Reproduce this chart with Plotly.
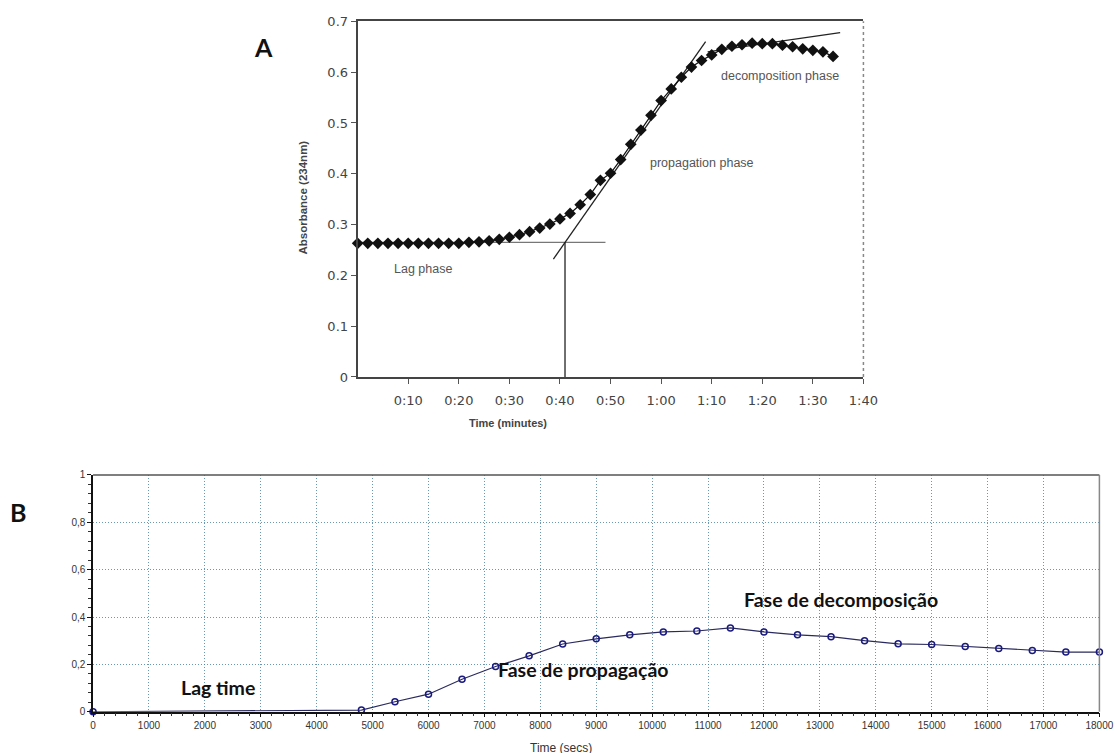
import plotly.graph_objects as go

# ---------------- Panel A data ----------------
a_time_min = [0, 2, 4, 6, 8, 10, 12, 14, 16, 18, 20, 22, 24, 26, 28, 30, 32, 34, 36, 38,
              40, 42, 44, 46, 48, 50, 52, 54, 56, 58, 60, 62, 64, 66, 68, 70, 72, 74, 76, 78,
              80, 82, 84, 86, 88, 90, 92, 94]
a_absorbance = [0.263, 0.263, 0.263, 0.263, 0.263, 0.263, 0.263, 0.263, 0.263, 0.263, 0.263,
                0.265, 0.266, 0.268, 0.271, 0.275, 0.280, 0.286, 0.293, 0.301, 0.311, 0.322,
                0.339, 0.359, 0.387, 0.401, 0.428, 0.458, 0.486, 0.515, 0.544, 0.567, 0.590,
                0.610, 0.623, 0.634, 0.645, 0.651, 0.654, 0.657, 0.656, 0.656, 0.653, 0.650,
                0.646, 0.643, 0.640, 0.631]
a_xtick_vals = [10, 20, 30, 40, 50, 60, 70, 80, 90, 100]
a_xtick_text = ["0:10", "0:20", "0:30", "0:40", "0:50", "1:00", "1:10", "1:20", "1:30", "1:40"]
a_ytick_vals = [0, 0.1, 0.2, 0.3, 0.4, 0.5, 0.6, 0.7]
a_ytick_text = ["0", "0.1", "0.2", "0.3", "0.4", "0.5", "0.6", "0.7"]

# tangent / construction lines (x in minutes, y in absorbance)
lag_line_x = [0, 49]
lag_line_y = [0.265, 0.265]
prop_line_x = [38.7, 68.8]
prop_line_y = [0.232, 0.660]
lagtime_x = [41, 41]
lagtime_y = [0, 0.265]
decomp_line_x = [69.2, 95.4]
decomp_line_y = [0.640, 0.678]

# ---------------- Panel B data ----------------
b_time_s = [0, 4800, 5400, 6000, 6600, 7200, 7800, 8400, 9000, 9600, 10200, 10800, 11400,
            12000, 12600, 13200, 13800, 14400, 15000, 15600, 16200, 16800, 17400, 18000]
b_value = [0.0, 0.007, 0.042, 0.074, 0.137, 0.191, 0.236, 0.286, 0.308, 0.325, 0.337, 0.341,
           0.354, 0.337, 0.325, 0.317, 0.300, 0.287, 0.284, 0.276, 0.267, 0.259, 0.252, 0.252]
b_xtick_vals = [0, 1000, 2000, 3000, 4000, 5000, 6000, 7000, 8000, 9000, 10000, 11000, 12000,
                13000, 14000, 15000, 16000, 17000, 18000]
b_xtick_text = [str(v) for v in b_xtick_vals]
b_ytick_vals = [0, 0.2, 0.4, 0.6, 0.8, 1]
b_ytick_text = ["0", "0,2", "0,4", "0,6", "0,8", "1"]

# ---------------- layout geometry ----------------
W, H = 1126, 763
KX, KY = 0.987, 0.976
PADX, PADY = 2.0, 8.6


def px_x(t):
    return (t / KX - PADX) / W


def px_y(t):
    return 1 - (t / KY - PADY) / H


# plot areas in target-picture pixels
A_L, A_R, A_T, A_B = 357.7, 865.0, 22.7, 376.7
B_L, B_R, B_T, B_B = 92.3, 1101.7, 474.3, 710.0

fig = go.Figure()

# Panel A
line_a = dict(color="#222222", width=1.3)
fig.add_trace(go.Scatter(x=lag_line_x, y=lag_line_y, mode="lines",
                         line=dict(color="#777777", width=1.3), xaxis="x", yaxis="y",
                         showlegend=False, hoverinfo="skip"))
fig.add_trace(go.Scatter(x=prop_line_x, y=prop_line_y, mode="lines", line=line_a,
                         xaxis="x", yaxis="y", showlegend=False, hoverinfo="skip"))
fig.add_trace(go.Scatter(x=lagtime_x, y=lagtime_y, mode="lines", line=line_a,
                         xaxis="x", yaxis="y", showlegend=False, hoverinfo="skip"))
fig.add_trace(go.Scatter(x=decomp_line_x, y=decomp_line_y, mode="lines", line=line_a,
                         xaxis="x", yaxis="y", showlegend=False, hoverinfo="skip"))
fig.add_trace(go.Scatter(x=a_time_min, y=a_absorbance, mode="lines+markers",
                         line=dict(color="#111111", width=1.2),
                         marker=dict(symbol="diamond", size=9, color="#111111"),
                         xaxis="x", yaxis="y", showlegend=False, cliponaxis=False))

# Panel B
fig.add_trace(go.Scatter(x=b_time_s, y=b_value, mode="lines+markers",
                         line=dict(color="#2a2a5e", width=1.2),
                         marker=dict(symbol="circle-open", size=6, color="#1a1a80",
                                     line=dict(width=1.5, color="#1a1a80")),
                         xaxis="x2", yaxis="y2", showlegend=False, cliponaxis=False))

tick_font_a = dict(family="DejaVu Sans, Arial, sans-serif", size=13, color="#444444")
tick_font_b = dict(family="Liberation Sans, Arial, sans-serif", size=10, color="#333333")
grid_b = "rgba(70,125,165,0.8)"

fig.update_layout(
    width=W, height=H,
    margin=dict(l=0, r=0, t=0, b=0),
    paper_bgcolor="white", plot_bgcolor="white",
    xaxis=dict(domain=[px_x(A_L), px_x(A_R)], anchor="y", range=[0, 100],
               tickmode="array", tickvals=a_xtick_vals, ticktext=a_xtick_text,
               tickfont=tick_font_a, ticklabelstandoff=5,
               ticks="outside", ticklen=5, tickcolor="#555555",
               showline=True, linecolor="#444444", linewidth=2, mirror=True,
               showgrid=False, zeroline=False),
    yaxis=dict(domain=[px_y(A_B), px_y(A_T)], anchor="x", range=[0, 0.7],
               tickmode="array", tickvals=a_ytick_vals, ticktext=a_ytick_text,
               tickfont=tick_font_a,
               ticks="outside", ticklen=5, tickcolor="#555555",
               showline=True, linecolor="#444444", linewidth=2,
               showgrid=False, zeroline=False),
    xaxis2=dict(domain=[px_x(B_L), px_x(B_R)], anchor="y2", range=[0, 18000],
                tickmode="array", tickvals=b_xtick_vals, ticktext=b_xtick_text,
                tickfont=tick_font_b,
                ticks="outside", ticklen=4, tickcolor="#111111",
                minor=dict(tickmode="linear", tick0=0, dtick=200, ticks="outside",
                           ticklen=3, tickcolor="#333333", showgrid=False),
                showline=True, linecolor="#111111", linewidth=1.5,
                showgrid=True, gridcolor=grid_b, griddash="1px,2px", gridwidth=1,
                zeroline=False),
    yaxis2=dict(domain=[px_y(B_B), px_y(B_T)], anchor="x2", range=[0, 1],
                tickmode="array", tickvals=b_ytick_vals, ticktext=b_ytick_text,
                tickfont=tick_font_b,
                ticks="outside", ticklen=4, tickcolor="#111111",
                minor=dict(tickmode="linear", tick0=0, dtick=0.04, ticks="outside",
                           ticklen=3, tickcolor="#333333", showgrid=False),
                showline=True, linecolor="#111111", linewidth=1.5,
                showgrid=True, gridcolor=grid_b, griddash="1px,2px", gridwidth=1,
                zeroline=False),
    shapes=[
        dict(type="line", xref="paper", yref="paper",
             x0=px_x(A_R), x1=px_x(A_R), y0=px_y(A_B), y1=px_y(A_T),
             line=dict(color="#888888", width=1.5, dash="dot")),
        dict(type="line", xref="paper", yref="paper",
             x0=px_x(B_L), x1=px_x(B_R), y0=px_y(B_T), y1=px_y(B_T),
             line=dict(color="#555555", width=1.5)),
        dict(type="line", xref="paper", yref="paper",
             x0=px_x(B_R), x1=px_x(B_R), y0=px_y(B_B), y1=px_y(B_T),
             line=dict(color="#888888", width=1.5)),
    ],
)

bold_font = "Lato, Open Sans, sans-serif"
sans = "Liberation Sans, Arial, sans-serif"


def label(text, x, y, font, angle=0):
    return dict(text=text, x=px_x(x), y=px_y(y), xref="paper", yref="paper",
                xanchor="center", yanchor="middle", showarrow=False,
                textangle=angle, font=font)


ann = [
    label("<b>A</b>", 263, 48, dict(family=bold_font, size=25, color="#111111")),
    label("<b>B</b>", 17, 511, dict(family=bold_font, size=25, color="#111111")),
    label("<b>Absorbance (234nm)</b>", 303, 198, dict(family=sans, size=11.5, color="#444444"), -90),
    label("<b>Time (minutes)</b>", 509, 423, dict(family=sans, size=11, color="#444444")),
    label("Lag phase", 423, 269, dict(family=sans, size=12.5, color="#555555")),
    label("propagation phase", 703, 164, dict(family=sans, size=12.5, color="#555555")),
    label("decomposition phase", 781, 77, dict(family=sans, size=12.5, color="#555555")),
    label("<b>Lag time</b>", 218, 686, dict(family=bold_font, size=19.5, color="#111111")),
    label("<b>Fase de propagação</b>", 584, 668, dict(family=bold_font, size=19.5, color="#111111")),
    label("<b>Fase de decomposição</b>", 843, 598, dict(family=bold_font, size=19.5, color="#111111")),
    label("Time (secs)", 562, 746, dict(family=sans, size=12, color="#333333")),
]
fig.update_layout(annotations=ann)

fig.write_html("out.html", config={"displayModeBar": False},
               post_script="document.body.style.margin='0';document.body.style.padding='0';")
